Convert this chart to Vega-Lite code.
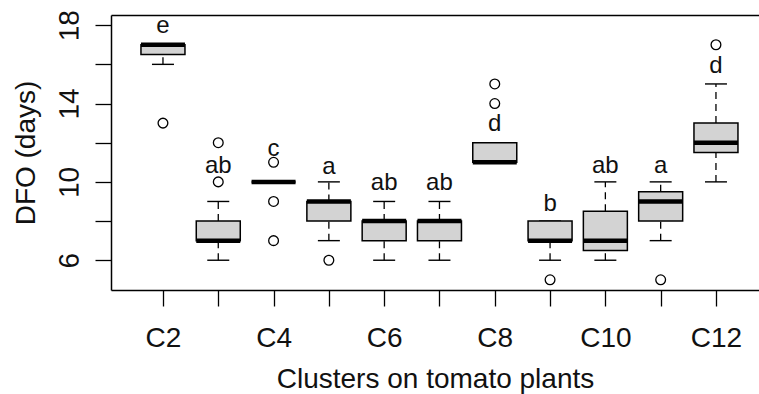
{
  "$schema": "https://vega.github.io/schema/vega-lite/v6.json",
  "width": 648,
  "height": 275,
  "autosize": {"type": "none"},
  "padding": {"left": 111, "top": 15, "right": 0, "bottom": 104},
  "background": "white",
  "config": {
    "view": {"stroke": null},
    "font": "Liberation Sans",
    "axis": {
      "grid": false,
      "domainColor": "black",
      "domainWidth": 1.5,
      "tickColor": "black",
      "tickWidth": 1.3,
      "tickSize": 16,
      "labelFont": "Liberation Sans",
      "labelFontSize": 28,
      "labelColor": "#111",
      "titleFont": "Liberation Sans",
      "titleFontSize": 28,
      "titleFontWeight": "normal",
      "titleColor": "#111"
    }
  },
  "datasets": {
    "boxes": [
      {"cluster": "C2", "lower": 16, "q1": 16.5, "median": 17, "q3": 17, "upper": 17, "letter": "e", "letter_y": 17.6},
      {"cluster": "C3", "lower": 6, "q1": 7, "median": 7, "q3": 8, "upper": 9, "letter": "ab", "letter_y": 10.45},
      {"cluster": "C4", "lower": 10, "q1": 10, "median": 10, "q3": 10, "upper": 10, "letter": "c", "letter_y": 11.3},
      {"cluster": "C5", "lower": 7, "q1": 8, "median": 9, "q3": 9, "upper": 10, "letter": "a", "letter_y": 10.4},
      {"cluster": "C6", "lower": 6, "q1": 7, "median": 8, "q3": 8, "upper": 9, "letter": "ab", "letter_y": 9.6},
      {"cluster": "C7", "lower": 6, "q1": 7, "median": 8, "q3": 8, "upper": 9, "letter": "ab", "letter_y": 9.6},
      {"cluster": "C8", "lower": 11, "q1": 11, "median": 11, "q3": 12, "upper": 12, "letter": "d", "letter_y": 12.6},
      {"cluster": "C9", "lower": 6, "q1": 7, "median": 7, "q3": 8, "upper": 8, "letter": "b", "letter_y": 8.5},
      {"cluster": "C10", "lower": 6, "q1": 6.5, "median": 7, "q3": 8.5, "upper": 10, "letter": "ab", "letter_y": 10.47},
      {"cluster": "C11", "lower": 7, "q1": 8, "median": 9, "q3": 9.5, "upper": 10, "letter": "a", "letter_y": 10.47},
      {"cluster": "C12", "lower": 10, "q1": 11.5, "median": 12, "q3": 13, "upper": 15, "letter": "d", "letter_y": 15.55}
    ],
    "outliers": [
      {"cluster": "C2", "dfo": 13},
      {"cluster": "C3", "dfo": 10},
      {"cluster": "C3", "dfo": 12},
      {"cluster": "C4", "dfo": 11},
      {"cluster": "C4", "dfo": 9},
      {"cluster": "C4", "dfo": 7},
      {"cluster": "C5", "dfo": 6},
      {"cluster": "C8", "dfo": 14},
      {"cluster": "C8", "dfo": 15},
      {"cluster": "C9", "dfo": 5},
      {"cluster": "C11", "dfo": 5},
      {"cluster": "C12", "dfo": 17}
    ]
  },
  "encoding": {
    "x": {
      "field": "cluster",
      "type": "nominal",
      "sort": ["C2", "C3", "C4", "C5", "C6", "C7", "C8", "C9", "C10", "C11", "C12"],
      "scale": {
        "type": "point",
        "domain": ["C2", "C3", "C4", "C5", "C6", "C7", "C8", "C9", "C10", "C11", "C12"],
        "padding": 0.859,
        "align": 0.547
      }
    }
  },
  "layer": [
    {
      "data": {"name": "boxes"},
      "mark": {"type": "rule", "stroke": "black", "strokeWidth": 1.3, "strokeDash": [7, 5]},
      "encoding": {
        "x": {
          "field": "cluster",
          "type": "nominal",
          "axis": {
            "orient": "bottom",
            "title": "Clusters on tomato plants",
            "labelAngle": 0,
            "labelPadding": 40,
            "labelBaseline": "alphabetic",
            "labelAlign": "center",
            "labelExpr": "indexof(['C2','C4','C6','C8','C10','C12'], datum.value) >= 0 ? datum.label : ''",
            "titleBaseline": "alphabetic",
            "titleY": 97.5
          }
        },
        "y": {
          "field": "lower",
          "type": "quantitative",
          "scale": {"domain": [4.48, 18.52], "nice": false, "zero": false},
          "axis": {
            "title": "DFO (days)",
            "values": [6, 8, 10, 12, 14, 16, 18],
            "labelExpr": "datum.value % 4 == 2 ? datum.label : ''",
            "labelAngle": -89.9,
            "labelAlign": "center",
            "labelBaseline": "alphabetic",
            "labelPadding": 17,
            "titleAngle": 270,
            "titleAlign": "center",
            "titleBaseline": "alphabetic",
            "titleX": -76.5,
            "titleY": 137.5
          }
        },
        "y2": {"field": "q1"}
      }
    },
    {
      "data": {"name": "boxes"},
      "mark": {"type": "rule", "stroke": "black", "strokeWidth": 1.3, "strokeDash": [7, 5]},
      "encoding": {
        "x": {
          "field": "cluster",
          "type": "nominal",
          "axis": {"orient": "top", "labels": false, "ticks": false, "domain": true, "title": null}
        },
        "y": {"field": "q3", "type": "quantitative", "axis": null},
        "y2": {"field": "upper"}
      }
    },
    {
      "data": {"name": "boxes"},
      "mark": {"type": "tick", "color": "black", "size": 22, "thickness": 1.4, "opacity": 1},
      "encoding": {
        "x": {"field": "cluster", "type": "nominal", "axis": null},
        "y": {"field": "lower", "type": "quantitative", "axis": null}
      }
    },
    {
      "data": {"name": "boxes"},
      "mark": {"type": "tick", "color": "black", "size": 22, "thickness": 1.4, "opacity": 1},
      "encoding": {
        "x": {"field": "cluster", "type": "nominal", "axis": null},
        "y": {"field": "upper", "type": "quantitative", "axis": null}
      }
    },
    {
      "data": {"name": "boxes"},
      "mark": {"type": "bar", "size": 44, "fill": "#d3d3d3", "stroke": "black", "strokeWidth": 1.5},
      "encoding": {
        "x": {"field": "cluster", "type": "nominal", "axis": null},
        "y": {"field": "q1", "type": "quantitative", "axis": null},
        "y2": {"field": "q3"}
      }
    },
    {
      "data": {"name": "boxes"},
      "mark": {"type": "tick", "color": "black", "size": 44, "thickness": 4.5, "opacity": 1},
      "encoding": {
        "x": {"field": "cluster", "type": "nominal", "axis": null},
        "y": {"field": "median", "type": "quantitative", "axis": null}
      }
    },
    {
      "data": {"name": "outliers"},
      "mark": {"type": "point", "shape": "circle", "filled": false, "stroke": "black", "strokeWidth": 1.3, "size": 95, "opacity": 1},
      "encoding": {
        "x": {"field": "cluster", "type": "nominal", "axis": null},
        "y": {"field": "dfo", "type": "quantitative", "axis": null}
      }
    },
    {
      "data": {"name": "boxes"},
      "mark": {"type": "text", "font": "Liberation Sans", "fontSize": 24, "color": "#111", "align": "center", "baseline": "alphabetic"},
      "encoding": {
        "x": {"field": "cluster", "type": "nominal", "axis": null},
        "y": {"field": "letter_y", "type": "quantitative", "axis": null},
        "text": {"field": "letter"}
      }
    }
  ],
  "resolve": {"axis": {"x": "independent", "y": "independent"}}
}
